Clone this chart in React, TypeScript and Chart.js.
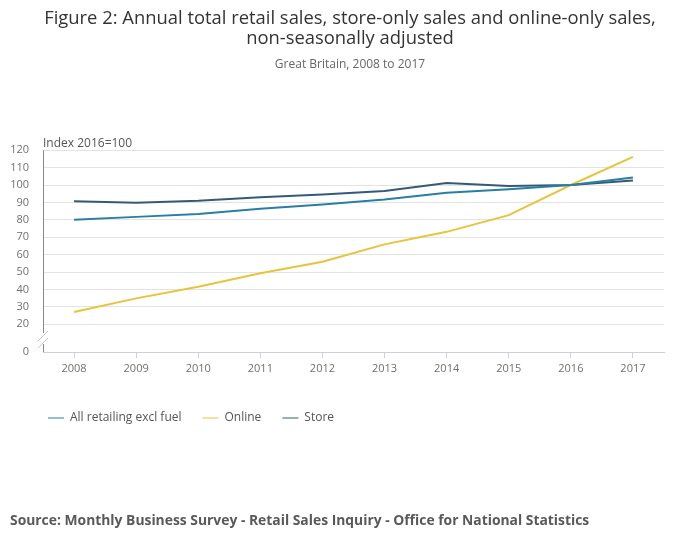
import React, { useEffect, useRef } from "react";
import { Chart, registerables } from "chart.js";

Chart.register(...registerables);

const years = ["2008", "2009", "2010", "2011", "2012", "2013", "2014", "2015", "2016", "2017"];
const allRetail = [80, 81.7, 83.3, 86.3, 88.8, 91.7, 95.5, 97.5, 100, 104.3];
const online = [27.1, 34.9, 41.6, 49.3, 55.9, 65.9, 73.1, 82.7, 100, 116.2];
const store = [90.7, 89.8, 90.9, 92.9, 94.6, 96.5, 101.2, 99.5, 100, 102.6];
const yTickValues = [20, 30, 40, 50, 60, 70, 80, 90, 100, 110, 120];
const yBreakMin = 4.1;

const titleLines = [
  "Figure 2: Annual total retail sales, store-only sales and online-only sales,",
  "non-seasonally adjusted",
];
const subtitleText = "Great Britain, 2008 to 2017";
const axisTitle = "Index 2016=100";
const sourceText = "Source: Monthly Business Survey - Retail Sales Inquiry - Office for National Statistics";

const FONT = "'Open Sans', sans-serif";

const extrasPlugin = {
  id: "extras",
  afterLayout(chart: any) {
    if (chart.legend) chart.legend.left = 27;
  },
  afterDraw(chart: any) {
    const { ctx, chartArea } = chart;
    const x0 = chartArea.left;
    ctx.save();
    // axis title
    ctx.font = `12px ${FONT}`;
    ctx.fillStyle = "#555";
    ctx.textBaseline = "middle";
    ctx.textAlign = "left";
    ctx.fillText(axisTitle, x0, chartArea.top - 7);
    // y axis line with break
    ctx.strokeStyle = "#8a8a8a";
    ctx.lineWidth = 1;
    ctx.beginPath();
    ctx.moveTo(x0 + 0.5, chartArea.top);
    ctx.lineTo(x0 + 0.5, chartArea.bottom - 19);
    ctx.moveTo(x0 + 0.5, chartArea.bottom - 8);
    ctx.lineTo(x0 + 0.5, chartArea.bottom);
    ctx.stroke();
    ctx.strokeStyle = "#c8c8c8";
    ctx.beginPath();
    ctx.moveTo(x0 - 5, chartArea.bottom - 11);
    ctx.lineTo(x0 + 5, chartArea.bottom - 21);
    ctx.moveTo(x0 - 5, chartArea.bottom - 4);
    ctx.lineTo(x0 + 5, chartArea.bottom - 14);
    ctx.stroke();
    // source
    ctx.font = `bold 13.86px ${FONT}`;
    ctx.fillStyle = "#595959";
    ctx.fillText(sourceText, 10, 521);
    ctx.restore();
  },
};

export default function App() {
  const ref = useRef<HTMLCanvasElement>(null);
  useEffect(() => {
    document.body.style.margin = "0";
    Chart.defaults.font.family = FONT;
    const chart = new Chart(ref.current!, {
      type: "line",
      data: {
        labels: years,
        datasets: [
          { label: "All retailing excl fuel", data: allRetail, borderColor: "#2a7ea3", backgroundColor: "#2a7ea3" },
          { label: "Online", data: online, borderColor: "#e6c43c", backgroundColor: "#e6c43c" },
          { label: "Store", data: store, borderColor: "#355a77", backgroundColor: "#355a77" },
        ],
      },
      options: {
        responsive: false,
        animation: false,
        elements: {
          line: { borderWidth: 2, tension: 0 },
          point: { radius: 0, hoverRadius: 0 },
        },
        layout: { padding: { left: 0, right: 0, top: 0, bottom: 115 } },
        plugins: {
          title: {
            display: true,
            text: titleLines,
            color: "#333",
            font: { family: FONT, size: 18.4, weight: "normal", lineHeight: 1.13 },
            padding: { top: 8, bottom: 0 },
          },
          subtitle: {
            display: true,
            text: subtitleText,
            color: "#666",
            font: { family: FONT, size: 12, weight: "normal", lineHeight: 1.2 },
            padding: { top: 8, bottom: 78.2 },
          },
          legend: {
            position: "bottom",
            align: "start",
            labels: {
              usePointStyle: true,
              pointStyle: "line",
              pointStyleWidth: 16,
              padding: 21,
              color: "#555",
              font: { family: FONT, size: 12 },
            },
          },
          tooltip: { enabled: false },
        },
        scales: {
          x: {
            type: "category",
            offset: true,
            grid: { offset: false, drawOnChartArea: false, drawTicks: true, tickLength: 6, color: "#ccd2d8" },
            border: { color: "#ccd2d8" },
            ticks: { color: "#707070", font: { size: 11 }, padding: 4, maxRotation: 0, autoSkip: false },
            afterFit: (s: any) => { s.height = 39; },
          },
          y: {
            min: yBreakMin,
            max: 120,
            afterBuildTicks: (s: any) => {
              s.ticks = [yBreakMin, ...yTickValues].map((v) => ({ value: v }));
            },
            afterFit: (s: any) => { s.width = 43; },
            grid: {
              drawTicks: false,
              color: (c: any) => (c.tick && c.tick.value < 10 ? "rgba(0,0,0,0)" : "#e3e3e3"),
            },
            border: { display: false },
            ticks: {
              color: "#707070",
              font: { size: 11 },
              padding: 14,
              callback: (v: any) => (v < 10 ? "0" : String(v)),
            },
          },
          yRight: {
            position: "right",
            display: true,
            grid: { display: false },
            border: { display: false },
            ticks: { display: false },
            afterFit: (s: any) => { s.width = 36; },
          },
        },
      },
      plugins: [extrasPlugin],
    });
    return () => chart.destroy();
  }, []);
  return <canvas ref={ref} width={700} height={549} />;
}
